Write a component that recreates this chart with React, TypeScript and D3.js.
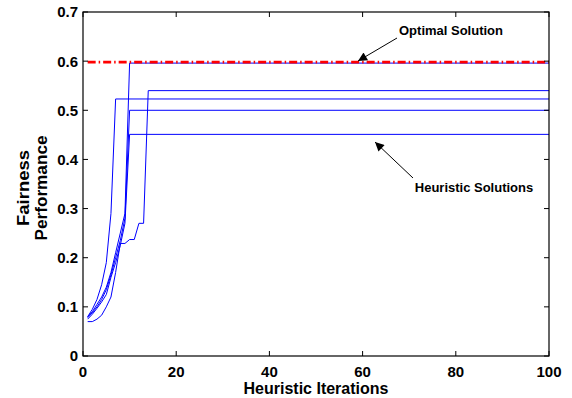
import React, { useRef, useEffect } from 'react';
import * as d3 from 'd3';

// Heuristic runs: value at iterations 1..n, then held flat to iteration 100
const runA = [0.08, 0.095, 0.115, 0.145, 0.19, 0.29, 0.523];
const runB = [0.08, 0.09, 0.105, 0.12, 0.14, 0.17, 0.21, 0.25, 0.29, 0.596];
const runC = [0.078, 0.088, 0.1, 0.115, 0.135, 0.165, 0.2, 0.235, 0.28, 0.5];
const runD = [0.075, 0.085, 0.097, 0.11, 0.125, 0.16, 0.19, 0.225, 0.27, 0.451];
const runE = [0.07, 0.07, 0.075, 0.083, 0.1, 0.12, 0.17, 0.229, 0.229, 0.237, 0.237, 0.27, 0.27, 0.54];
const heuristicRuns = [runA, runB, runC, runD, runE];
const optimalValue = 0.598;
const lastIteration = 100;

const xTicks = [0, 20, 40, 60, 80, 100];
const yTicks = [0, 0.1, 0.2, 0.3, 0.4, 0.5, 0.6, 0.7];

const App: React.FC = () => {
  const svgRef = useRef<SVGSVGElement>(null);
  const width = 572;
  const height = 398;

  useEffect(() => {
    if (!svgRef.current) return;
    const svg = d3.select(svgRef.current);
    svg.selectAll('*').remove();

    const margin = { top: 12, right: 23, bottom: 42, left: 83 };
    const w = width - margin.left - margin.right;
    const h = height - margin.top - margin.bottom;
    const font = '"Liberation Sans", Arial, Helvetica, sans-serif';

    const x = d3.scaleLinear().domain([0, 100]).range([0, w]);
    const y = d3.scaleLinear().domain([0, 0.7]).range([h, 0]);

    const g = svg.append('g')
      .attr('transform', `translate(${margin.left},${margin.top})`);

    const line = d3.line<[number, number]>()
      .x(d => x(d[0]))
      .y(d => y(d[1]));

    // Heuristic runs
    heuristicRuns.forEach(run => {
      const pts: [number, number][] = run.map((v, i) => [i + 1, v]);
      pts.push([lastIteration, run[run.length - 1]]);
      g.append('path')
        .attr('d', line(pts))
        .attr('fill', 'none')
        .attr('stroke', '#0000ff')
        .attr('stroke-width', 1);
    });

    // Optimal solution
    g.append('path')
      .attr('d', line([[1, optimalValue], [lastIteration, optimalValue]]))
      .attr('fill', 'none')
      .attr('stroke', '#ff0000')
      .attr('stroke-width', 2.6)
      .attr('stroke-dasharray', '8,3,1.5,3');

    // Box
    g.append('rect')
      .attr('width', w)
      .attr('height', h)
      .attr('fill', 'none')
      .attr('stroke', '#000')
      .attr('stroke-width', 1.2);

    const tickLen = 5;
    xTicks.forEach(t => {
      g.append('line').attr('x1', x(t)).attr('x2', x(t)).attr('y1', h).attr('y2', h - tickLen)
        .attr('stroke', '#000');
      g.append('line').attr('x1', x(t)).attr('x2', x(t)).attr('y1', 0).attr('y2', tickLen)
        .attr('stroke', '#000');
      g.append('text')
        .attr('x', x(t))
        .attr('y', h + 20.5)
        .attr('text-anchor', 'middle')
        .attr('font-family', font)
        .attr('font-weight', 700)
        .attr('font-size', '15px')
        .text(t);
    });

    yTicks.forEach(t => {
      g.append('line').attr('x1', 0).attr('x2', tickLen).attr('y1', y(t)).attr('y2', y(t))
        .attr('stroke', '#000');
      g.append('line').attr('x1', w).attr('x2', w - tickLen).attr('y1', y(t)).attr('y2', y(t))
        .attr('stroke', '#000');
      g.append('text')
        .attr('x', -5)
        .attr('y', y(t))
        .attr('dy', '0.36em')
        .attr('text-anchor', 'end')
        .attr('font-family', font)
        .attr('font-weight', 700)
        .attr('font-size', '15px')
        .text(t === 0 ? '0' : t.toFixed(1));
    });

    // Axis titles
    g.append('text')
      .attr('x', w / 2)
      .attr('y', h + 38)
      .attr('text-anchor', 'middle')
      .attr('font-family', font)
      .attr('font-weight', 700)
      .attr('font-size', '16px')
      .text('Heuristic Iterations');

    const yTitle = [
      { txt: 'Fairness', bx: 28.5, len: 76 },
      { txt: 'Performance', bx: 46.5, len: 105 }
    ];
    yTitle.forEach(t => {
      svg.append('text')
        .attr('transform', `translate(${t.bx},188) rotate(-90)`)
        .attr('text-anchor', 'middle')
        .attr('font-family', font)
        .attr('font-weight', 700)
        .attr('font-size', '16px')
        .attr('textLength', t.len)
        .attr('lengthAdjust', 'spacingAndGlyphs')
        .text(t.txt);
    });

    // Annotations
    const defs = svg.append('defs');
    defs.append('marker')
      .attr('id', 'arrowhead')
      .attr('viewBox', '0 0 10 10')
      .attr('refX', 10)
      .attr('refY', 5)
      .attr('markerWidth', 12)
      .attr('markerHeight', 9)
      .attr('markerUnits', 'userSpaceOnUse')
      .attr('orient', 'auto')
      .append('path')
      .attr('d', 'M0,0 L10,5 L0,10 Z')
      .attr('fill', '#000');

    const notes = [
      { label: 'Optimal Solution', tx: 451, ty: 35, from: [397, 38], to: [358, 61] },
      { label: 'Heuristic Solutions', tx: 474, ty: 192, from: [413, 178], to: [375, 142] }
    ];
    notes.forEach(n => {
      svg.append('line')
        .attr('x1', n.from[0]).attr('y1', n.from[1])
        .attr('x2', n.to[0]).attr('y2', n.to[1])
        .attr('stroke', '#000')
        .attr('stroke-width', 1)
        .attr('marker-end', 'url(#arrowhead)');
      svg.append('text')
        .attr('x', n.tx)
        .attr('y', n.ty)
        .attr('text-anchor', 'middle')
        .attr('font-family', font)
        .attr('font-weight', 700)
        .attr('font-size', '13px')
        .text(n.label);
    });
  }, []);

  return (
    <svg
      ref={svgRef}
      width={width}
      height={height}
      style={{ position: 'absolute', left: 0, top: 0, background: '#fff' }}
    />
  );
};

export default App;
